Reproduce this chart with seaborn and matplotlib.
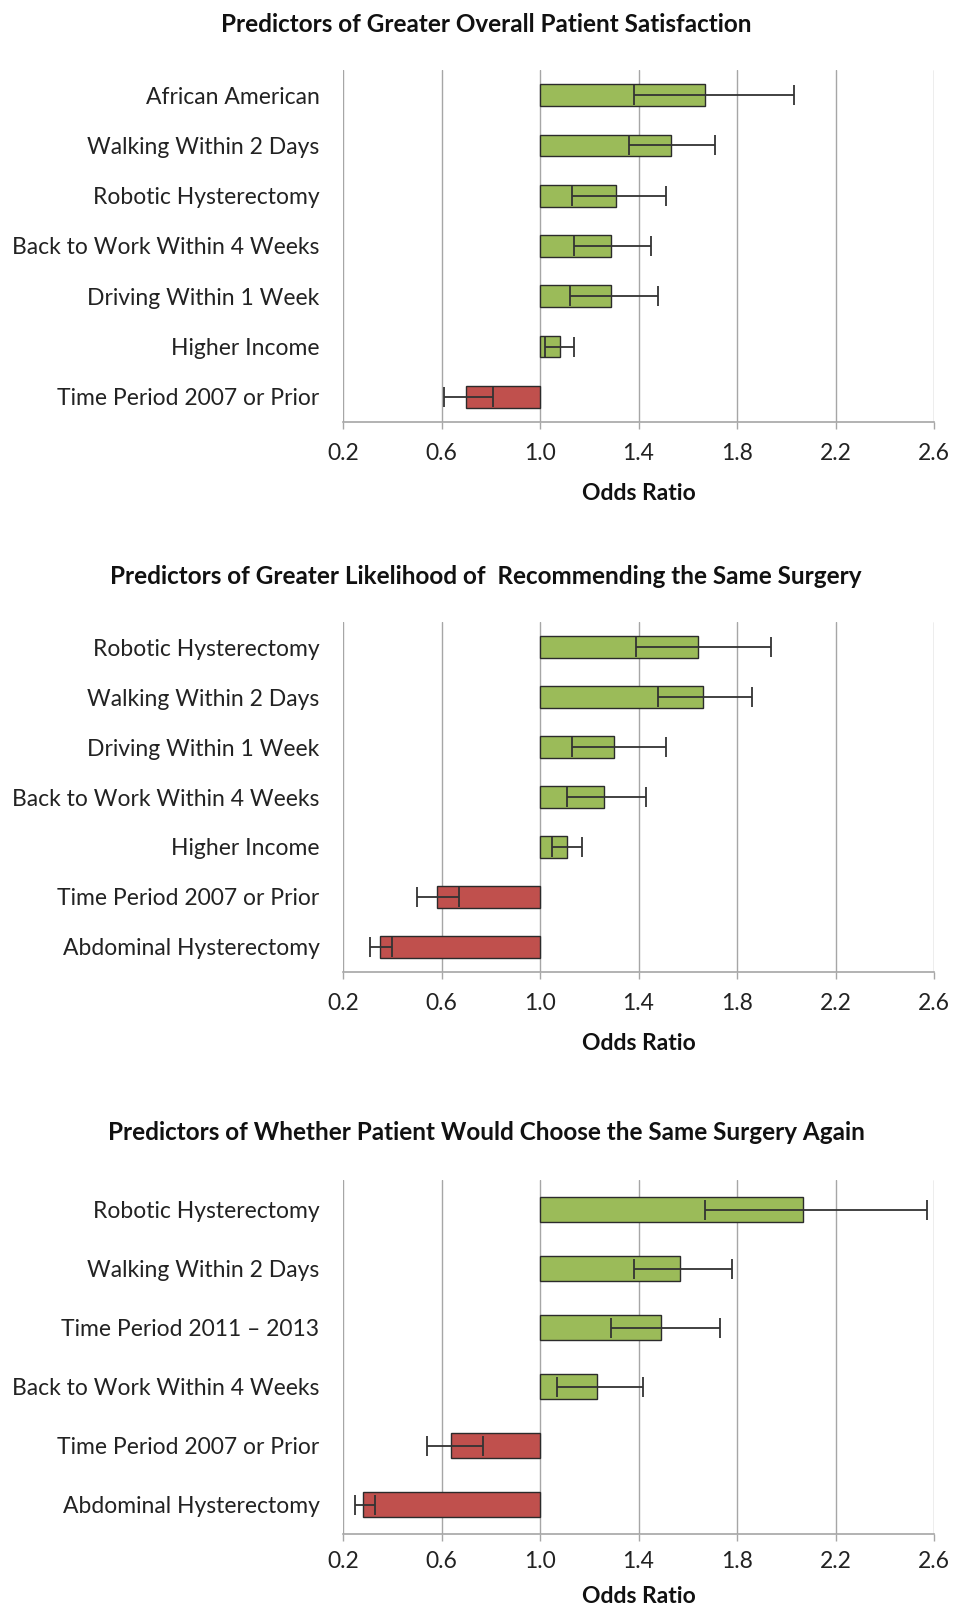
import numpy as np
import pandas as pd
import matplotlib
matplotlib.use("Agg")
import matplotlib.pyplot as plt
from matplotlib.ticker import FuncFormatter, FixedLocator
import seaborn as sns

# ---------------- data ----------------
titles = [
    "Predictors of Greater Overall Patient Satisfaction",
    "Predictors of Greater Likelihood of  Recommending the Same Surgery",
    "Predictors of Whether Patient Would Choose the Same Surgery Again",
]

p1_labels = ["African American", "Walking Within 2 Days", "Robotic Hysterectomy",
             "Back to Work Within 4 Weeks", "Driving Within 1 Week", "Higher Income",
             "Time Period 2007 or Prior"]
p1_or = [1.67, 1.53, 1.31, 1.29, 1.29, 1.08, 0.70]
p1_lo = [1.38, 1.36, 1.13, 1.14, 1.12, 1.02, 0.61]
p1_hi = [2.03, 1.71, 1.51, 1.45, 1.48, 1.14, 0.81]

p2_labels = ["Robotic Hysterectomy", "Walking Within 2 Days", "Driving Within 1 Week",
             "Back to Work Within 4 Weeks", "Higher Income", "Time Period 2007 or Prior",
             "Abdominal Hysterectomy"]
p2_or = [1.64, 1.66, 1.30, 1.26, 1.11, 0.58, 0.35]
p2_lo = [1.39, 1.48, 1.13, 1.11, 1.05, 0.50, 0.31]
p2_hi = [1.94, 1.86, 1.51, 1.43, 1.17, 0.67, 0.40]

p3_labels = ["Robotic Hysterectomy", "Walking Within 2 Days", "Time Period 2011 \u2013 2013",
             "Back to Work Within 4 Weeks", "Time Period 2007 or Prior",
             "Abdominal Hysterectomy"]
p3_or = [2.07, 1.57, 1.49, 1.23, 0.64, 0.28]
p3_lo = [1.67, 1.38, 1.29, 1.07, 0.54, 0.25]
p3_hi = [2.57, 1.78, 1.73, 1.42, 0.77, 0.33]

x_ticks = [0.2, 0.6, 1.0, 1.4, 1.8, 2.2, 2.6]
x_label = "Odds Ratio"
baseline = 1.0

panels = [
    (p1_labels, p1_or, p1_lo, p1_hi),
    (p2_labels, p2_or, p2_lo, p2_hi),
    (p3_labels, p3_or, p3_lo, p3_hi),
]

# ---------------- style ----------------
sns.set_theme(style="white")
plt.rcParams["font.family"] = ["Lato", "DejaVu Sans"]

GREEN = "#9BBB59"
RED = "#C0504D"
GRID = "#A6A6A6"
FS = 16.5
FS_TITLE = 17.5

fig = plt.figure(figsize=(9.54, 16.09), dpi=100)
W, H = 954.0, 1609.0
ax_left, ax_right = 343 / W, 934 / W
# (top px, bottom px, title y px, tick pad, xlabel pad)
layout = [(70, 422, 25, 10, 14), (622, 972, 577, 10, 14), (1180, 1534, 1133, 7, 10)]

for (labels, ors, los, his), title, (top, bot, ty, tpad, lpad) in zip(panels, titles, layout):
    ax = fig.add_axes([ax_left, 1 - bot / H, ax_right - ax_left, (bot - top) / H])
    ors = np.array(ors)
    df = pd.DataFrame({
        "label": labels,
        "delta": ors - baseline,
        "dir": np.where(ors >= baseline, "up", "down"),
    })
    sns.barplot(data=df, x="delta", y="label", hue="dir", order=labels,
                palette={"up": GREEN, "down": RED}, dodge=False, legend=False,
                saturation=1, width=0.43, edgecolor="#2b2b2b", linewidth=1.0,
                orient="h", ax=ax, zorder=3)
    ax.errorbar(x=ors - baseline, y=np.arange(len(labels)),
                xerr=[ors - np.array(los), np.array(his) - ors],
                fmt="none", ecolor="#333333", elinewidth=1.3, capsize=7,
                capthick=1.3, zorder=4)

    ax.set_xlim(x_ticks[0] - baseline, x_ticks[-1] - baseline)
    ax.set_ylim(len(labels) - 0.5, -0.5)
    ax.xaxis.set_major_locator(FixedLocator([t - baseline for t in x_ticks]))
    ax.xaxis.set_major_formatter(FuncFormatter(lambda v, p: f"{v + baseline:.1f}"))
    ax.grid(axis="x", color=GRID, linewidth=1.0, zorder=0)
    ax.grid(axis="y", visible=False)
    for s in ["top", "right", "left"]:
        ax.spines[s].set_visible(False)
    ax.spines["bottom"].set_color(GRID)
    ax.spines["bottom"].set_linewidth(1.2)
    ax.tick_params(axis="x", bottom=True, length=5, width=1, color=GRID,
                   labelsize=FS, pad=tpad, labelcolor="#222222")
    ax.tick_params(axis="y", left=False, labelsize=FS, pad=11, labelcolor="#222222")
    ax.set_ylabel("")
    ax.set_xlabel(x_label, fontsize=FS, fontweight="bold", labelpad=lpad, color="#111111")
    fig.text(486 / W, 1 - ty / H, title, ha="center", va="center",
             fontsize=FS_TITLE, fontweight="bold", color="#111111")

fig.savefig("out.png", dpi=100, facecolor="white")
